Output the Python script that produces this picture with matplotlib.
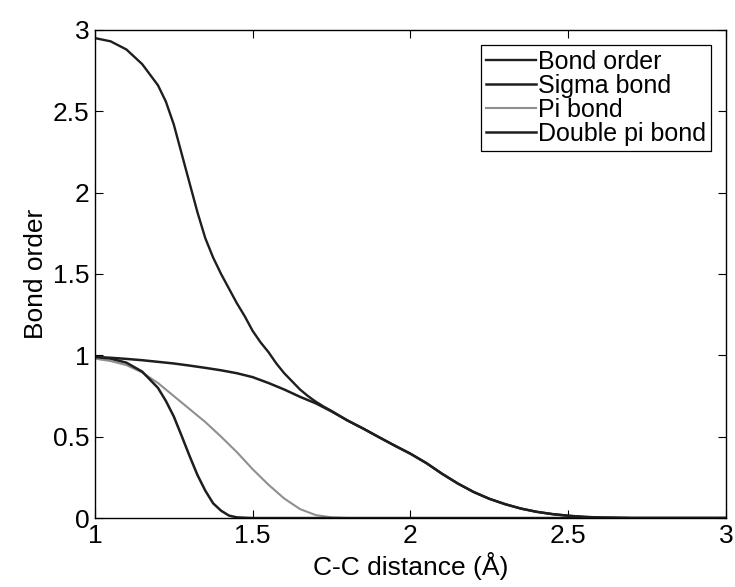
"""
Bond order vs C-C distance: total bond order and its sigma / pi / double pi parts.
Values read off the reference figure.
"""
import matplotlib

matplotlib.use("Agg")
import matplotlib.pyplot as plt
from matplotlib.ticker import FuncFormatter

INK = "#1e1e1e"
PI_GREY = "#8f8f8f"

# total bond order
bo_x = [1.0, 1.05, 1.1, 1.15, 1.2, 1.225, 1.25, 1.275, 1.3, 1.325, 1.35, 1.375,
        1.4, 1.425, 1.45, 1.475, 1.5, 1.525, 1.55, 1.575, 1.6, 1.625, 1.65, 1.675,
        1.7, 1.725, 1.75, 1.8, 1.85, 1.9, 1.95, 2.0,
        2.05, 2.1, 2.15, 2.2, 2.25, 2.3, 2.35, 2.4, 2.45, 2.5, 2.55, 2.6, 2.7, 3.0]
bo_y = [2.95, 2.93, 2.88, 2.79, 2.66, 2.56, 2.42, 2.24, 2.06, 1.88, 1.72, 1.60,
        1.50, 1.41, 1.32, 1.24, 1.15, 1.08, 1.02, 0.95, 0.89, 0.84, 0.79, 0.75,
        0.715, 0.685, 0.658, 0.60, 0.55, 0.497, 0.445, 0.395,
        0.338, 0.272, 0.212, 0.16, 0.118, 0.085, 0.058, 0.038, 0.024, 0.014, 0.007, 0.003, 0.0, 0.0]

# sigma bond
sig_x = [1.0, 1.05, 1.1, 1.15, 1.2, 1.25, 1.3, 1.35, 1.4, 1.45, 1.5, 1.55, 1.6,
         1.65, 1.7, 1.75, 1.8, 1.85, 1.9, 1.95, 2.0, 2.05, 2.1, 2.15, 2.2, 2.25,
         2.3, 2.35, 2.4, 2.45, 2.5, 2.55, 2.6, 2.7, 3.0]
sig_y = [0.99, 0.985, 0.978, 0.97, 0.96, 0.95, 0.937, 0.923, 0.908, 0.89, 0.866, 0.83, 0.79,
         0.745, 0.705, 0.655, 0.60, 0.55, 0.497, 0.445, 0.395, 0.338, 0.272, 0.212, 0.16, 0.118,
         0.085, 0.058, 0.038, 0.024, 0.014, 0.007, 0.003, 0.0, 0.0]

# pi bond
pi_x = [1.0, 1.05, 1.1, 1.15, 1.2, 1.25, 1.3, 1.35, 1.4, 1.45, 1.5, 1.55, 1.6,
        1.65, 1.7, 1.75, 1.8, 3.0]
pi_y = [0.98, 0.965, 0.94, 0.895, 0.83, 0.75, 0.67, 0.59, 0.50, 0.405, 0.30, 0.205, 0.12,
        0.055, 0.018, 0.004, 0.0, 0.0]

# double pi bond
dpi_x = [1.0, 1.05, 1.1, 1.15, 1.2, 1.225, 1.25, 1.275, 1.3, 1.325, 1.35, 1.375,
         1.4, 1.425, 1.45, 1.5, 3.0]
dpi_y = [0.99, 0.98, 0.955, 0.90, 0.80, 0.72, 0.625, 0.505, 0.382, 0.265, 0.168, 0.09,
         0.045, 0.015, 0.004, 0.0, 0.0]

plt.rcParams["font.family"] = ["Liberation Sans", "DejaVu Sans"]

fig = plt.figure(figsize=(7.35, 5.87), dpi=100)
ax = fig.add_axes([0.129, 0.1175, 0.859, 0.8315])

ax.plot(bo_x, bo_y, color=INK, lw=1.7, label="Bond order")
ax.plot(sig_x, sig_y, color=INK, lw=1.8, label="Sigma bond")
ax.plot(pi_x, pi_y, color=PI_GREY, lw=1.5, label="Pi bond")
ax.plot(dpi_x, dpi_y, color=INK, lw=1.8, label="Double pi bond")

ax.set_xlim(1, 3)
ax.set_ylim(0, 3)
ax.set_xticks([1, 1.5, 2, 2.5, 3])
ax.set_yticks([0, 0.5, 1, 1.5, 2, 2.5, 3])
fmt = FuncFormatter(lambda v, pos: f"{v:g}")
ax.xaxis.set_major_formatter(fmt)
ax.yaxis.set_major_formatter(fmt)
ax.tick_params(direction="in", length=6, width=0.8, top=True, right=True,
               labelsize=19, colors="black", pad=4)
for s in ax.spines.values():
    s.set_linewidth(1.0)
    s.set_color("black")

ax.set_xlabel("C-C distance (Å)", fontsize=19, labelpad=3)
ax.set_ylabel("Bond order", fontsize=19, labelpad=3)

leg = ax.legend(loc="upper right", fontsize=18, handlelength=2.0, handletextpad=0.1,
                borderaxespad=0.6, borderpad=0.2, labelspacing=0.0, fancybox=False,
                framealpha=1, edgecolor="black")
leg.get_frame().set_linewidth(0.9)

fig.savefig("out.png", dpi=100, facecolor="white")
